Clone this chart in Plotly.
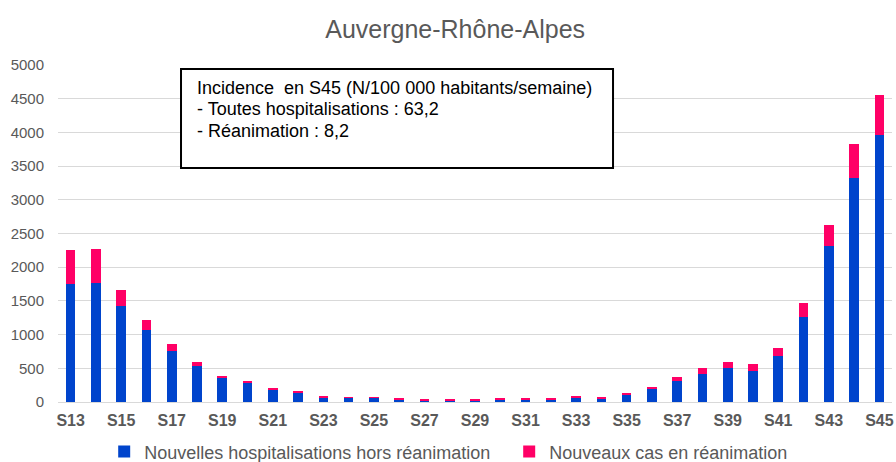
import plotly.graph_objects as go

# weekly data, Auvergne-Rhône-Alpes
semaines = ["S%d" % w for w in range(13, 46)]
hospit_hors_rea = [1757, 1772, 1421, 1069, 753, 535, 357, 278, 184, 132, 70, 60, 60, 40, 25, 25,
                   15, 40, 40, 40, 70, 55, 110, 188, 312, 421, 500, 456, 678, 1262, 2316, 3321, 3955]
cas_rea = [505, 505, 242, 154, 104, 65, 35, 40, 15, 37, 15, 10, 10, 15, 15, 15,
           18, 15, 15, 15, 15, 15, 24, 30, 59, 79, 89, 104, 119, 213, 303, 509, 594]
x_ticks = semaines[::2]
y_ticks = list(range(0, 5001, 500))
encadre = ["Incidence  en S45 (N/100 000 habitants/semaine)",
           "- Toutes hospitalisations : 63,2",
           "- Réanimation : 8,2"]

FONT = "Arial, Liberation Sans, sans-serif"
GREY = "#595959"

fig = go.Figure(layout=dict(width=896, height=462))

fig.add_trace(go.Bar(x=semaines, y=hospit_hors_rea, name="Nouvelles hospitalisations hors réanimation",
                     marker=dict(color="#0044CC", line=dict(width=0))))
fig.add_trace(go.Bar(x=semaines, y=cas_rea, name="Nouveaux cas en réanimation",
                     marker=dict(color="#FF0066", line=dict(width=0))))

# text box in the upper left
fig.add_shape(type="rect", xref="paper", yref="paper", x0=0.1475, x1=0.6655, y0=0.694, y1=0.988,
              line=dict(color="black", width=2), fillcolor="white", layer="above")
for i, ligne in enumerate(encadre):
    fig.add_annotation(xref="paper", yref="paper", x=0.1643, y=0.932 - 0.064 * i,
                       xanchor="left", yanchor="middle", align="left", showarrow=False,
                       text=ligne, font=dict(family=FONT, size=18, color="black"))

fig.update_layout(
    barmode="stack",
    bargap=0.62,
    plot_bgcolor="white",
    paper_bgcolor="white",
    title=dict(text="Auvergne-Rhône-Alpes", x=0.508, xanchor="center", y=0.937, yanchor="middle",
               font=dict(family=FONT, size=25, color=GREY)),
    margin=dict(l=58, r=4, t=65, b=60, autoexpand=False),
    xaxis=dict(tickmode="array", tickvals=x_ticks, ticktext=["<b>%s</b>" % t for t in x_ticks],
               tickfont=dict(family=FONT, size=16, color=GREY), showgrid=False,
               showline=True, linecolor="#d9d9d9", linewidth=1, ticks="", ticklabelstandoff=4),
    yaxis=dict(range=[0, 5000], tickvals=y_ticks, tickfont=dict(family=FONT, size=15, color=GREY),
               showgrid=True, gridcolor="#d9d9d9", gridwidth=1, zeroline=False,
               ticklabelstandoff=13),
    legend=dict(orientation="h", x=0.541, xanchor="center", y=-0.148, yanchor="middle",
                entrywidth=360, itemwidth=30,
                font=dict(family=FONT, size=18, color=GREY), traceorder="normal"),
    showlegend=True,
)

fig.write_html("out.html", config={"displayModeBar": False},
               post_script="document.body.style.margin='0';")
